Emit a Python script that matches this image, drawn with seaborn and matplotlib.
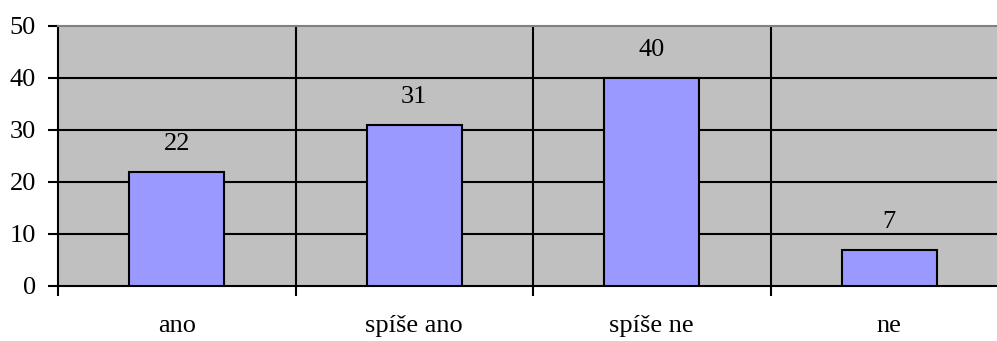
import matplotlib
matplotlib.use("Agg")
import matplotlib.pyplot as plt
import seaborn as sns
import pandas as pd
from matplotlib.ticker import FixedLocator, NullFormatter, FixedFormatter

categories = ["ano", "spíše ano", "spíše ne", "ne"]
values = [22, 31, 40, 7]
yticks = [0, 10, 20, 30, 40, 50]

sns.set_theme(style="white")
plt.rcParams['font.family'] = ['Liberation Serif', 'DejaVu Serif']
plt.rcParams['text.color'] = 'black'
plt.rcParams['xtick.labelcolor'] = 'black'
plt.rcParams['ytick.labelcolor'] = 'black'

df = pd.DataFrame({"cat": categories, "val": values})

W, H = 997, 341
FS = 19
fig = plt.figure(figsize=(W / 100, H / 100), dpi=100)
ax = fig.add_axes([58 / W, (H - 286) / H, (1008 - 58) / W, (286 - 26) / H])
ax.set_facecolor("#C0C0C0")

sns.barplot(data=df, x="cat", y="val", color="#9999FF", edgecolor="black",
            linewidth=1.5, width=0.4, saturation=1, ax=ax, zorder=3)

ax.set_xlim(-0.5, len(categories) - 0.5)
ax.set_ylim(0, 50)

# gridlines
for y in yticks[1:-1]:
    ax.axhline(y, color="black", lw=1.5, zorder=1)
for i in range(1, len(categories)):
    ax.axvline(i - 0.5, color="black", lw=1.5, zorder=1)

# ticks
ax.xaxis.set_major_locator(FixedLocator([i - 0.5 for i in range(len(categories) + 1)]))
ax.xaxis.set_major_formatter(NullFormatter())
ax.xaxis.set_minor_locator(FixedLocator(list(range(len(categories)))))
ax.xaxis.set_minor_formatter(FixedFormatter(categories))
ax.tick_params(axis="x", which="major", direction="out", length=7, width=1.5,
               color="black", bottom=True)
ax.tick_params(axis="x", which="minor", length=0, pad=21, labelsize=FS,
               labelcolor="black")
ax.set_yticks(yticks)
ax.tick_params(axis="y", direction="out", length=7, width=1.5, color="black",
               left=True, labelsize=FS, pad=9, labelcolor="black")
ax.set_xlabel("")
ax.set_ylabel("")

for s in ["left", "bottom"]:
    ax.spines[s].set_color("black")
    ax.spines[s].set_linewidth(1.5)
ax.spines["top"].set_color("#808080")
ax.spines["top"].set_linewidth(1.5)
ax.spines["right"].set_visible(False)

for i, v in enumerate(values):
    ax.annotate(str(v), (i, v), xytext=(0, 20), textcoords="offset points",
                ha="center", va="center", fontsize=FS, color="black")

fig.savefig("out.png", dpi=100)
